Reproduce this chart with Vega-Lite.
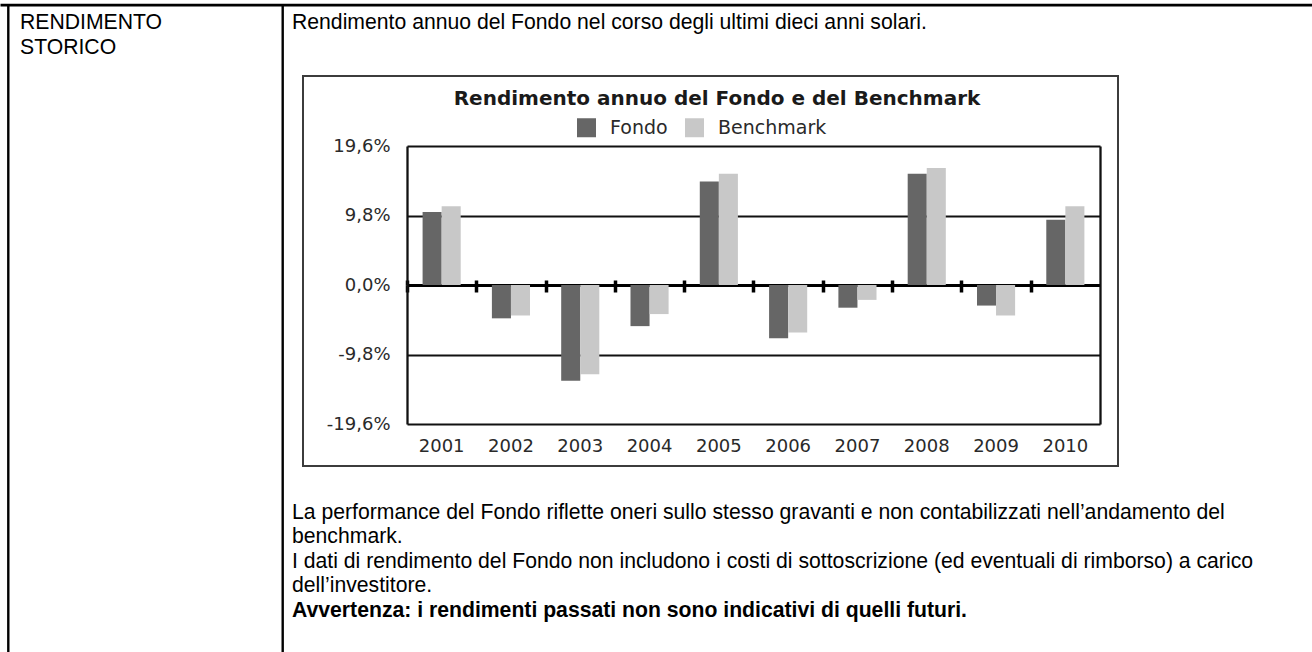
{
  "$schema": "https://vega.github.io/schema/vega-lite/v6.json",
  "width": 815,
  "height": 390,
  "padding": {"left": 303, "top": 76, "right": 194, "bottom": 186},
  "autosize": {"type": "none"},
  "background": "white",
  "config": {
    "view": {"stroke": "#3c3c3c", "strokeWidth": 2},
    "font": "DejaVu Sans"
  },
  "datasets": {
    "rendimenti": [
      {"anno": "2001", "serie": "Fondo", "rendimento": 10.3},
      {"anno": "2001", "serie": "Benchmark", "rendimento": 11.1},
      {"anno": "2002", "serie": "Fondo", "rendimento": -4.7},
      {"anno": "2002", "serie": "Benchmark", "rendimento": -4.3},
      {"anno": "2003", "serie": "Fondo", "rendimento": -13.5},
      {"anno": "2003", "serie": "Benchmark", "rendimento": -12.6},
      {"anno": "2004", "serie": "Fondo", "rendimento": -5.8},
      {"anno": "2004", "serie": "Benchmark", "rendimento": -4.1},
      {"anno": "2005", "serie": "Fondo", "rendimento": 14.6},
      {"anno": "2005", "serie": "Benchmark", "rendimento": 15.7},
      {"anno": "2006", "serie": "Fondo", "rendimento": -7.5},
      {"anno": "2006", "serie": "Benchmark", "rendimento": -6.7},
      {"anno": "2007", "serie": "Fondo", "rendimento": -3.2},
      {"anno": "2007", "serie": "Benchmark", "rendimento": -2.1},
      {"anno": "2008", "serie": "Fondo", "rendimento": 15.7},
      {"anno": "2008", "serie": "Benchmark", "rendimento": 16.5},
      {"anno": "2009", "serie": "Fondo", "rendimento": -2.9},
      {"anno": "2009", "serie": "Benchmark", "rendimento": -4.3},
      {"anno": "2010", "serie": "Fondo", "rendimento": 9.2},
      {"anno": "2010", "serie": "Benchmark", "rendimento": 11.1}
    ],
    "testo": [
      {"colonna": "a", "riga": 0, "testo": "RENDIMENTO", "stile": "normale"},
      {"colonna": "a", "riga": 1, "testo": "STORICO", "stile": "normale"},
      {"colonna": "b", "riga": 0, "testo": "Rendimento annuo del Fondo nel corso degli ultimi dieci anni solari.", "stile": "normale"},
      {"colonna": "b", "riga": 20, "testo": "La performance del Fondo riflette oneri sullo stesso gravanti e non contabilizzati nell’andamento del", "stile": "normale"},
      {"colonna": "b", "riga": 21, "testo": "benchmark.", "stile": "normale"},
      {"colonna": "b", "riga": 22, "testo": "I dati di rendimento del Fondo non includono i costi di sottoscrizione (ed eventuali di rimborso) a carico", "stile": "normale"},
      {"colonna": "b", "riga": 23, "testo": "dell’investitore.", "stile": "normale"},
      {"colonna": "b", "riga": 24, "testo": "Avvertenza: i rendimenti passati non sono indicativi di quelli futuri.", "stile": "grassetto"}
    ],
    "titolo": [
      {"parte": "titolo", "testo": "Rendimento annuo del Fondo e del Benchmark"}
    ],
    "cornice": [{"k": 0}]
  },
  "layer": [
    {
      "data": {"name": "rendimenti"},
      "layer": [
        {
          "mark": {"type": "bar"},
          "encoding": {
            "x": {
              "field": "anno", "type": "ordinal",
              "scale": {"domain": ["2001","2002","2003","2004","2005","2006","2007","2008","2009","2010"], "range": [104, 797], "paddingInner": 0.45, "paddingOuter": 0.225},
              "axis": {"orient": "bottom", "offset": -42, "domain": false, "ticks": false, "tickSize": 0, "grid": false, "labelAngle": 0, "labelPadding": 13.5, "labelFont": "DejaVu Sans", "labelFontSize": 18, "labelColor": "#2a2a2a", "title": null}
            },
            "xOffset": {"field": "serie", "type": "nominal", "scale": {"domain": ["Fondo", "Benchmark"], "paddingInner": 0, "paddingOuter": 0}},
            "y": {
              "field": "rendimento", "type": "quantitative",
              "scale": {"domain": [-19.6, 19.6], "range": [348, 70], "nice": false},
              "axis": {"orient": "left", "offset": -104, "values": [-19.6, -9.8, 0, 9.8, 19.6], "labelExpr": "replace(replace(format(datum.value, '.1f'), '.', ','), '\u2212', '-') + '%'", "grid": true, "gridColor": "#111111", "gridWidth": 2, "gridOpacity": 1, "domain": true, "domainColor": "#111111", "domainWidth": 2.3, "ticks": false, "tickSize": 0, "labelPadding": 17, "labelFont": "DejaVu Sans", "labelFontSize": 18, "labelColor": "#2a2a2a", "title": null}
            },
            "color": {
              "field": "serie", "type": "nominal",
              "scale": {"domain": ["Fondo", "Benchmark"], "range": ["#666666", "#c8c8c8"]},
              "legend": {"orient": "none", "legendX": 274, "legendY": 42, "direction": "horizontal", "title": null, "symbolType": "square", "symbolSize": 361, "symbolStrokeWidth": 0, "symbolOpacity": 1, "labelFont": "DejaVu Sans", "labelFontSize": 19, "labelColor": "#2a2a2a", "columnPadding": 17, "labelOffset": 14}
            }
          }
        },
        {
          "mark": {"type": "bar", "opacity": 0},
          "encoding": {
            "x": {"field": "anno", "type": "ordinal", "axis": {"orient": "bottom", "offset": -181, "bandPosition": 0, "tickOffset": -15.6, "labels": false, "domain": true, "domainColor": "#000000", "domainWidth": 3, "ticks": true, "tickSize": 7, "tickWidth": 3.5, "tickColor": "#000000", "grid": false, "title": null}}
          }
        },
        {
          "mark": {"type": "bar", "opacity": 0},
          "encoding": {
            "x": {"field": "anno", "type": "ordinal", "axis": {"orient": "top", "offset": -209, "bandPosition": 0, "tickOffset": -15.6, "labels": false, "domain": false, "ticks": true, "tickSize": 5, "tickWidth": 3.5, "tickColor": "#000000", "grid": false, "title": null}}
          }
        },
        {
          "mark": {"type": "point", "opacity": 0},
          "encoding": {
            "y": {"field": "rendimento", "type": "quantitative", "axis": {"orient": "right", "offset": -18, "labels": false, "ticks": false, "grid": false, "domain": true, "domainColor": "#111111", "domainWidth": 2.3, "title": null}}
          }
        }
      ],
      "resolve": {"axis": {"x": "independent", "y": "independent"}}
    },
    {
      "data": {"name": "testo"},
      "encoding": {
        "x": {"field": "colonna", "type": "nominal", "scale": {"type": "point", "domain": ["a", "b"], "range": [-283, -11], "padding": 0}, "axis": null},
        "y": {"field": "riga", "type": "quantitative", "scale": {"domain": [0, 24], "range": [-46.7, 540.5], "nice": false, "zero": false}, "axis": null},
        "text": {"field": "testo"}
      },
      "layer": [
        {
          "transform": [{"filter": "datum.stile === 'normale'"}],
          "mark": {"type": "text", "align": "left", "baseline": "alphabetic", "font": "Liberation Sans", "fontSize": 21.2, "color": "#000000"}
        },
        {
          "transform": [{"filter": "datum.stile === 'grassetto'"}],
          "mark": {"type": "text", "align": "left", "baseline": "alphabetic", "font": "Liberation Sans", "fontSize": 21.2, "fontWeight": "bold", "color": "#000000"}
        }
      ]
    },
    {
      "data": {"name": "titolo"},
      "mark": {"type": "text", "align": "center", "baseline": "middle", "font": "DejaVu Sans", "fontWeight": "bold", "fontSize": 20, "color": "#1a1a1a"},
      "encoding": {
        "x": {"field": "parte", "type": "nominal", "scale": {"type": "band", "range": [0, 828]}, "axis": null},
        "y": {"field": "parte", "type": "nominal", "scale": {"type": "band", "range": [12, 34]}, "axis": null},
        "text": {"field": "testo"}
      }
    },
    {
      "data": {"name": "cornice"},
      "layer": [
        {
          "mark": {"type": "point", "opacity": 0},
          "encoding": {
            "x": {"datum": 0, "type": "quantitative", "scale": {"domain": [0, 1], "range": [-303, 1009], "nice": false, "zero": false}, "axis": {"orient": "top", "offset": 71.3, "domain": true, "domainColor": "#000000", "domainWidth": 2.7, "ticks": false, "labels": false, "grid": false, "title": null}},
            "y": {"datum": 0, "type": "quantitative", "scale": {"domain": [0, 1], "range": [-71.3, 576], "nice": false, "zero": false}, "axis": {"orient": "left", "offset": 295.2, "domain": true, "domainColor": "#000000", "domainWidth": 2.4, "ticks": false, "labels": false, "grid": false, "title": null}}
          }
        },
        {
          "mark": {"type": "point", "opacity": 0},
          "encoding": {
            "y": {"datum": 0, "type": "quantitative", "axis": {"orient": "left", "offset": 20.8, "domain": true, "domainColor": "#000000", "domainWidth": 2.4, "ticks": false, "labels": false, "grid": false, "title": null}}
          }
        }
      ],
      "resolve": {"axis": {"x": "independent", "y": "independent"}}
    }
  ],
  "resolve": {
    "scale": {"x": "independent", "y": "independent"},
    "axis": {"x": "independent", "y": "independent"}
  }
}
